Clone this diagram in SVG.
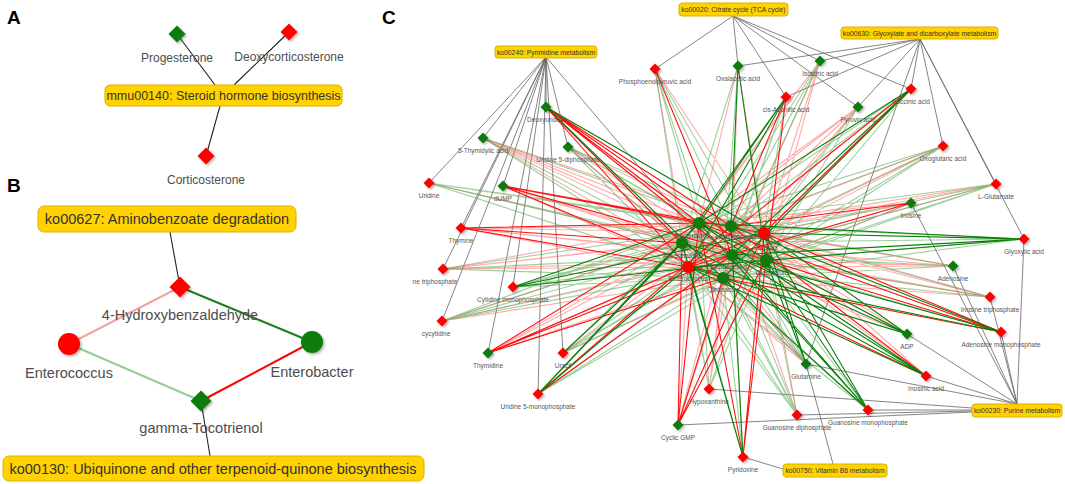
<svg xmlns="http://www.w3.org/2000/svg" width="1065" height="484" viewBox="0 0 1065 484">
<defs>
<filter id="sh" x="-60%" y="-60%" width="220%" height="220%"><feDropShadow dx="1.5" dy="1.5" stdDeviation="1.2" flood-color="#000" flood-opacity="0.3"/></filter>
<path id="dA" d="M0-8.5L8.5 0 0 8.5-8.5 0Z"/>
<path id="dB" d="M0-10.5L10.5 0 0 10.5-10.5 0Z"/>
<path id="dC" d="M0-5.5L5.5 0 0 5.5-5.5 0Z"/>
</defs>
<style>
text{font-family:"Liberation Sans",Arial,Helvetica,sans-serif}
.pl{font-weight:bold;font-size:19px;fill:#000}
.pb{fill:#ffd200;stroke:#d9b100;stroke-width:1}
.pt{fill:#333;text-anchor:middle}
.nl{fill:#4d4d4d;text-anchor:middle}
.cl{fill:#555;text-anchor:middle;font-size:6.5px}
.R{fill:#ff0000;filter:url(#sh)}
.G{fill:#107c10;filter:url(#sh)}
.k{stroke:#222;stroke-width:1.1;fill:none}
.gr{stroke:#666;stroke-width:0.8;fill:none}
.er{stroke:#ff1010;stroke-width:1.1;fill:none}
.ep{stroke:#ff7070;stroke-opacity:0.58;stroke-width:1.1;fill:none}
.eg{stroke:#0b800b;stroke-width:1.1;fill:none}
.el{stroke:#4faa4f;stroke-opacity:0.55;stroke-width:1.1;fill:none}
</style>
<rect width="1065" height="484" fill="#fff"/>
<text class="pl" x="7" y="24">A</text>
<text class="pl" x="7" y="192">B</text>
<text class="pl" x="382" y="24">C</text>

<g id="connectors">
<g id="edges-A">
<path class="k" d="M177 34L215 85M289 32L234 85M206 156L220 106"/>
</g>
<g id="edges-B">
<path class="k" d="M170 232L180 287M201 401L210 456"/>
<path d="M180 287L69 344" stroke="#f3a3a3" stroke-width="2"/>
<path d="M180 287L312 342" stroke="#1b7d1b" stroke-width="2"/>
<path d="M69 344L201 401" stroke="#97cc97" stroke-width="2"/>
<path d="M312 342L201 401" stroke="#ff0000" stroke-width="2"/>
</g>
<g id="edges-C">
<path class="gr" d="M733 16L655 69M733 16L738 66M733 16L820 61M733 16L786 97M733 16L858 107M733 16L911 89M920 39L738 66M920 39L820 61M920 39L786 97M920 39L858 107M920 39L911 89M920 39L943 146M920 39L996 184M920 39L1024 239M920 39L806 364M546 57L546 107M546 57L483 138M546 57L568 147M546 57L429 183M546 57L503 186M546 57L461 228M546 57L443 269M546 57L513 287M546 57L442 321M546 57L488 353M546 57L563 353M546 57L538 394M546 57L806 364M1017 404L911 203M1017 404L953 266M1017 404L990 297M1017 404L1001 332M1017 404L1024 239M1017 404L907 334M1017 404L926 376M1017 404L806 364M972 410L868 410M972 411L797 415M972 408L709 389M972 412L678 425M783 469L743 457M833 464L806 364"/>
<path class="ep" d="M655 69L764 233M655 69L688 267M738 66L699 223M738 66L764 233M738 66L732 255M738 66L688 267M820 61L699 223M820 61L764 233M820 61L682 243M820 61L766 260M820 61L723 278M858 107L699 223M858 107L731 226M858 107L682 243M858 107L732 255M858 107L688 267M858 107L723 278M943 146L731 226M943 146L732 255M943 146L688 267M483 138L699 223M483 138L764 233M483 138L732 255M483 138L766 260M483 138L723 278M568 147L731 226M568 147L732 255M568 147L723 278M429 183L682 243M503 186L731 226M503 186L682 243M503 186L732 255M503 186L688 267M461 228L731 226M461 228L764 233M461 228L732 255M461 228L766 260M461 228L723 278M443 269L699 223M443 269L764 233M443 269L682 243M443 269L766 260M443 269L688 267M442 321L731 226M442 321L732 255M442 321L723 278M488 353L731 226M488 353L682 243M488 353L766 260M488 353L688 267M563 353L731 226M563 353L766 260M678 425L731 226M678 425L732 255M678 425L688 267M709 389L731 226M709 389L732 255M709 389L723 278M806 364L699 223M806 364L682 243M806 364L688 267M797 415L731 226M797 415L766 260M926 376L764 233M926 376L766 260M907 334L731 226M907 334L682 243M907 334L766 260M990 297L699 223M990 297L764 233M990 297L682 243M990 297L766 260M990 297L723 278M953 266L699 223M953 266L764 233M953 266L682 243M953 266L766 260M953 266L688 267M911 203L699 223M911 203L764 233M911 203L732 255M911 203L723 278M996 184L731 226M996 184L682 243M996 184L688 267"/>
<path class="el" d="M655 69L699 223M655 69L731 226M655 69L682 243M655 69L766 260M655 69L723 278M738 66L682 243M738 66L723 278M820 61L731 226M820 61L732 255M820 61L688 267M786 97L764 233M786 97L732 255M786 97L723 278M858 107L764 233M858 107L766 260M911 89L731 226M911 89L682 243M911 89L766 260M943 146L699 223M943 146L764 233M943 146L682 243M943 146L766 260M943 146L723 278M483 138L731 226M483 138L682 243M483 138L688 267M568 147L699 223M568 147L764 233M568 147L682 243M568 147L766 260M568 147L688 267M429 183L699 223M429 183L731 226M429 183L764 233M429 183L732 255M429 183L766 260M429 183L688 267M429 183L723 278M443 269L731 226M443 269L732 255M443 269L723 278M513 287L731 226M513 287L682 243M513 287L732 255M513 287L688 267M513 287L723 278M442 321L699 223M442 321L764 233M442 321L682 243M442 321L766 260M442 321L688 267M563 353L699 223M563 353L764 233M563 353L732 255M563 353L688 267M563 353L723 278M538 394L764 233M538 394L766 260M538 394L723 278M709 389L699 223M709 389L764 233M709 389L682 243M709 389L766 260M709 389L688 267M743 457L732 255M743 457L723 278M806 364L731 226M806 364L732 255M806 364L723 278M797 415L699 223M797 415L764 233M797 415L682 243M797 415L732 255M797 415L688 267M797 415L723 278M868 410L731 226M868 410L682 243M868 410L688 267M907 334L723 278M1001 332L732 255M990 297L731 226M990 297L732 255M990 297L688 267M953 266L731 226M953 266L732 255M953 266L723 278M1024 239L731 226M1024 239L682 243M1024 239L766 260M1024 239L723 278M911 203L682 243M911 203L766 260M996 184L699 223M996 184L764 233M996 184L732 255M996 184L766 260M996 184L723 278"/>
<path class="er" d="M655 69L732 255M786 97L731 226M786 97L766 260M911 89L764 233M911 89L688 267M546 107L699 223M546 107L731 226M546 107L682 243M546 107L732 255M546 107L766 260M546 107L688 267M503 186L699 223M503 186L764 233M503 186L766 260M503 186L723 278M461 228L699 223M461 228L682 243M461 228L688 267M488 353L699 223M488 353L764 233M488 353L732 255M488 353L723 278M538 394L731 226M538 394L732 255M678 425L699 223M678 425L764 233M678 425L682 243M678 425L766 260M678 425L723 278M743 457L699 223M743 457L764 233M743 457L766 260M926 376L731 226M926 376L723 278M1001 332L699 223M1001 332L764 233M1001 332L766 260M1001 332L723 278M911 203L731 226M911 203L688 267"/>
<path class="eg" d="M738 66L731 226M738 66L766 260M786 97L699 223M786 97L682 243M786 97L688 267M911 89L699 223M911 89L732 255M911 89L723 278M546 107L764 233M546 107L723 278M513 287L699 223M513 287L764 233M513 287L766 260M563 353L682 243M538 394L699 223M538 394L682 243M538 394L688 267M743 457L731 226M743 457L682 243M743 457L688 267M806 364L764 233M806 364L766 260M868 410L699 223M868 410L764 233M868 410L732 255M868 410L766 260M868 410L723 278M926 376L699 223M926 376L682 243M926 376L732 255M926 376L688 267M907 334L699 223M907 334L764 233M907 334L732 255M907 334L688 267M1001 332L731 226M1001 332L682 243M1001 332L688 267M1024 239L699 223M1024 239L764 233M1024 239L732 255M1024 239L688 267"/>
</g>
</g>

<g id="panel-A">
<g id="a-steroid"><rect class="pb" x="105" y="85" width="237" height="21" rx="5"/><text class="pt" x="223.5" y="100" font-size="12.5">mmu00140: Steroid hormone biosynthesis</text></g>
<g id="a-progesterone" transform="translate(177 34)"><use href="#dA" class="G"/><text class="nl" y="28" font-size="12">Progesterone</text></g>
<g id="a-deoxycorticosterone" transform="translate(289 32)"><use href="#dA" class="R"/><text class="nl" y="29" font-size="12">Deoxycorticosterone</text></g>
<g id="a-corticosterone" transform="translate(206 156)"><use href="#dA" class="R"/><text class="nl" y="28" font-size="12">Corticosterone</text></g>
</g>

<g id="panel-B">
<g id="b-ko00627"><rect class="pb" x="38" y="206" width="258" height="26" rx="6"/><text class="pt" x="167" y="224" font-size="14.5">ko00627: Aminobenzoate degradation</text></g>
<g id="b-ko00130"><rect class="pb" x="3" y="456" width="421" height="25" rx="6"/><text class="pt" x="213" y="473.5" font-size="14.5">ko00130: Ubiquinone and other terpenoid-quinone biosynthesis</text></g>
<g id="b-hydroxybenzaldehyde" transform="translate(180 287)"><use href="#dB" class="R"/><text class="nl" y="33" font-size="14.5">4-Hydroxybenzaldehyde</text></g>
<g id="b-enterococcus" transform="translate(69 344)"><circle r="11" class="R"/><text class="nl" y="34" font-size="14.5">Enterococcus</text></g>
<g id="b-enterobacter" transform="translate(312 342)"><circle r="11" class="G"/><text class="nl" y="35" font-size="14.5">Enterobacter</text></g>
<g id="b-tocotrienol" transform="translate(201 401)"><use href="#dB" class="G"/><text class="nl" y="32" font-size="14.5">gamma-Tocotrienol</text></g>
</g>

<g id="panel-C">
<g id="c-ko00020"><rect class="pb" x="679" y="3" width="109" height="13" rx="3"/><text class="pt" x="733.5" y="12" font-size="6.8">ko00020: Citrate cycle (TCA cycle)</text></g>
<g id="c-ko00630"><rect class="pb" x="841" y="27" width="157" height="12" rx="3"/><text class="pt" x="919.5" y="35.5" font-size="6.8">ko00630: Glyoxylate and dicarboxylate metabolism</text></g>
<g id="c-ko00240"><rect class="pb" x="495" y="46" width="102" height="12" rx="3"/><text class="pt" x="546" y="54.5" font-size="6.8">ko00240: Pyrimidine metabolism</text></g>
<g id="c-ko00230"><rect class="pb" x="972" y="404" width="90" height="13" rx="3"/><text class="pt" x="1017" y="413" font-size="6.8">ko00230: Purine metabolism</text></g>
<g id="c-ko00750"><rect class="pb" x="783" y="464" width="104" height="13" rx="3"/><text class="pt" x="835" y="473" font-size="6.8">ko00750: Vitamin B6 metabolism</text></g>

<g id="c-pep" transform="translate(655 69)"><use href="#dC" class="R"/><text class="cl" y="15">Phosphoenolpyruvic acid</text></g>
<g id="c-oxalacetic" transform="translate(738 66)"><use href="#dC" class="G"/><text class="cl" y="15">Oxalacetic acid</text></g>
<g id="c-isocitric" transform="translate(820 61)"><use href="#dC" class="G"/><text class="cl" y="15">Isocitric acid</text></g>
<g id="c-cisaconitic" transform="translate(786 97)"><use href="#dC" class="R"/><text class="cl" y="15">cis-Aconitic acid</text></g>
<g id="c-pyruvic" transform="translate(858 107)"><use href="#dC" class="G"/><text class="cl" y="15">Pyruvic acid</text></g>
<g id="c-succinic" transform="translate(911 89)"><use href="#dC" class="R"/><text class="cl" y="15">Succinic acid</text></g>
<g id="c-oxoglutaric" transform="translate(943 146)"><use href="#dC" class="R"/><text class="cl" y="15">Oxoglutaric acid</text></g>
<g id="c-deoxyuridine" transform="translate(546 107)"><use href="#dC" class="G"/><text class="cl" y="15">Deoxyuridine</text></g>
<g id="c-thymidylic" transform="translate(483 138)"><use href="#dC" class="G"/><text class="cl" y="15">5-Thymidylic acid</text></g>
<g id="c-udp" transform="translate(568 147)"><use href="#dC" class="G"/><text class="cl" y="15">Uridine 5-diphosphate</text></g>
<g id="c-uridine" transform="translate(429 183)"><use href="#dC" class="R"/><text class="cl" y="15">Uridine</text></g>
<g id="c-dump" transform="translate(503 186)"><use href="#dC" class="G"/><text class="cl" y="15">dUMP</text></g>
<g id="c-thymine" transform="translate(461 228)"><use href="#dC" class="R"/><text class="cl" y="15">Thymine</text></g>
<g id="c-triphosphate" transform="translate(443 269)"><use href="#dC" class="R"/><text class="cl" x="-8" y="15" text-anchor="start">ne triphosphate</text></g>
<g id="c-cmp" transform="translate(513 287)"><use href="#dC" class="R"/><text class="cl" y="15">Cytidine monophosphate</text></g>
<g id="c-cycytidine" transform="translate(442 321)"><use href="#dC" class="R"/><text class="cl" x="-6" y="15" text-anchor="start">cycytidine</text></g>
<g id="c-thymidine" transform="translate(488 353)"><use href="#dC" class="G"/><text class="cl" y="15">Thymidine</text></g>
<g id="c-uracil" transform="translate(563 353)"><use href="#dC" class="R"/><text class="cl" y="15">Uracil</text></g>
<g id="c-ump" transform="translate(538 394)"><use href="#dC" class="R"/><text class="cl" y="15">Uridine 5-monophosphate</text></g>
<g id="c-cgmp" transform="translate(678 425)"><use href="#dC" class="G"/><text class="cl" y="15">Cyclic GMP</text></g>
<g id="c-hypoxanthine" transform="translate(709 389)"><use href="#dC" class="R"/><text class="cl" y="15">Hypoxanthine</text></g>
<g id="c-pyridoxine" transform="translate(743 457)"><use href="#dC" class="R"/><text class="cl" y="15">Pyridoxine</text></g>
<g id="c-glutamine" transform="translate(806 364)"><use href="#dC" class="G"/><text class="cl" y="15">Glutamine</text></g>
<g id="c-gdp" transform="translate(797 415)"><use href="#dC" class="R"/><text class="cl" y="15">Guanosine diphosphate</text></g>
<g id="c-gmp" transform="translate(868 410)"><use href="#dC" class="R"/><text class="cl" y="15">Guanosine monophosphate</text></g>
<g id="c-inosinic" transform="translate(926 376)"><use href="#dC" class="R"/><text class="cl" y="15">Inosinic acid</text></g>
<g id="c-adp" transform="translate(907 334)"><use href="#dC" class="G"/><text class="cl" y="15">ADP</text></g>
<g id="c-amp" transform="translate(1001 332)"><use href="#dC" class="R"/><text class="cl" y="15">Adenosine monophosphate</text></g>
<g id="c-itp" transform="translate(990 297)"><use href="#dC" class="R"/><text class="cl" y="15">Inosine triphosphate</text></g>
<g id="c-adenosine" transform="translate(953 266)"><use href="#dC" class="G"/><text class="cl" y="15">Adenosine</text></g>
<g id="c-glyoxylic" transform="translate(1024 239)"><use href="#dC" class="R"/><text class="cl" y="15">Glyoxylic acid</text></g>
<g id="c-inosine" transform="translate(911 203)"><use href="#dC" class="G"/><text class="cl" y="15">Inosine</text></g>
<g id="c-glutamate" transform="translate(996 184)"><use href="#dC" class="R"/><text class="cl" y="15">L-Glutamate</text></g>

<g id="c-bact1" transform="translate(699 223)"><circle r="6" class="G"/><text class="cl" x="-7" y="15">Bacteroides</text></g>
<g id="c-bact2" transform="translate(731 226)"><circle r="6" class="G"/><text class="cl" x="9" y="13">Lachnospiraceae</text></g>
<g id="c-bact3" transform="translate(764 233)"><circle r="6" class="R"/><text class="cl" x="4" y="17">Blautia</text></g>
<g id="c-bact4" transform="translate(682 243)"><circle r="6" class="G"/><text class="cl" y="15">Akkermansia</text></g>
<g id="c-bact5" transform="translate(732 255)"><circle r="6" class="G"/><text class="cl" x="-3" y="14">Lactobacillus</text></g>
<g id="c-bact6" transform="translate(766 260)"><circle r="6" class="G"/><text class="cl" x="6" y="15">Clostridium</text></g>
<g id="c-bact7" transform="translate(688 267)"><circle r="6" class="R"/><text class="cl" y="14">Enterococcus</text></g>
<g id="c-bact8" transform="translate(723 278)"><circle r="6" class="G"/><text class="cl" y="14">Citrobacter</text></g>
</g>
</svg>
